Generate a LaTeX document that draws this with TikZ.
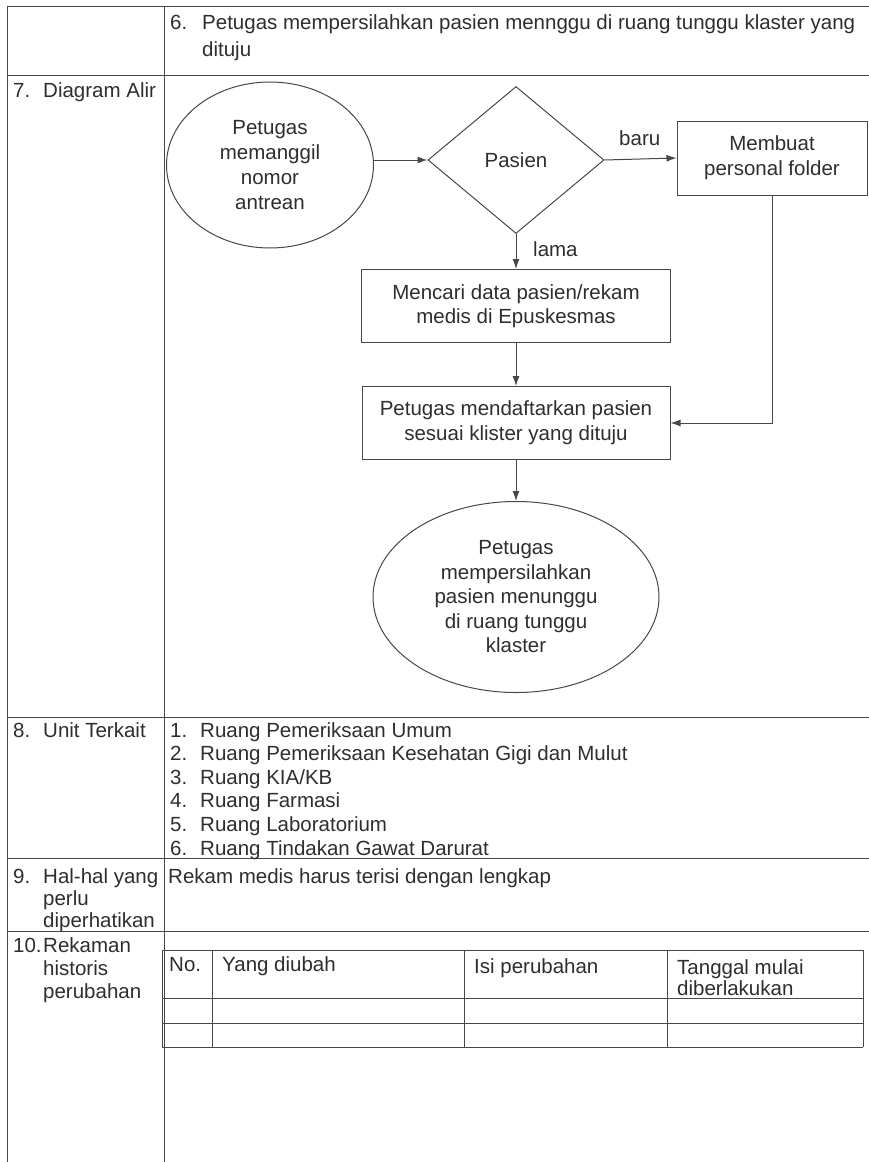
\documentclass[tikz,border=0pt]{standalone}
\usepackage{fontspec}
\setmainfont{Liberation Sans}
\usetikzlibrary{shapes.geometric,arrows.meta,positioning}
\definecolor{ink}{HTML}{2E2E2E}
\definecolor{rule}{HTML}{474747}

\begin{document}
\begin{tikzpicture}[x=1pt, y=-1pt, every node/.style={inner sep=0pt, text=ink, font=\fontsize{20.5}{23.5}\selectfont},%
        grid/.style={draw=rule, line width=1pt}, txt/.style={anchor=base west},
        box/.style={draw=rule, line width=1pt, rectangle, align=center},
        oval/.style={draw=rule, line width=1pt, ellipse, align=center},
        flow/.style={draw=rule, line width=1pt, -{Latex[length=10pt,width=7pt]}}]
    \useasboundingbox (0,0) rectangle (869,1162);
    % form grid
    \draw[grid] (7,6) -- (869,6);
    \draw[grid] (7,75) -- (869,75);
    \draw[grid] (7,717) -- (869,717);
    \draw[grid] (7,858) -- (869,858);
    \draw[grid] (7,931) -- (869,931);
    \draw[grid] (7,6) -- (7,1162);
    \draw[grid] (164,6) -- (164,1162);

    % row 6
    \node[txt] (n6) at (170,29) {6.};
    \node[txt] (t6a) at (202,29) {Petugas mempersilahkan pasien mennggu di ruang tunggu klaster yang};
    \node[txt] (t6b) at (202,56) {dituju};

    % row 7
    \node[txt] (n7) at (13,97) {7.};
    \node[txt] (l7) at (43,97) {Diagram Alir};
    \node[oval, minimum width=207, minimum height=166, font=\fontsize{20.5}{25}\selectfont] (start) at (270,165) {Petugas\\memanggil\\nomor\\antrean};
    \node[draw=rule, line width=1pt, diamond, minimum width=176, minimum height=147] (pasien) at (516,160) {Pasien};
    \node[box, minimum width=190, minimum height=74, font=\fontsize{20.5}{25}\selectfont] (folder) at (772,158) {Membuat\\personal folder};
    \node[box, minimum width=309, minimum height=73] (cari) at (516,306) {Mencari data pasien/rekam\\medis di Epuskesmas};
    \node[box, minimum width=308, minimum height=73, font=\fontsize{20.5}{25}\selectfont] (daftar) at (516,423) {Petugas mendaftarkan pasien\\sesuai klister yang dituju};
    \node[oval, minimum width=286, minimum height=191, font=\fontsize{20.5}{24.5}\selectfont] (finish) at (516,597) {Petugas\\mempersilahkan\\pasien menunggu\\di ruang tunggu\\klaster};
    \node[txt] (baru) at (619,145) {baru};
    \node[txt] (lama) at (533,256) {lama};

    \draw[flow] (start.east |- pasien.west) -- (pasien.west);
    \draw[flow] (pasien.east) -- (folder.west);
    \draw[flow] (pasien.south) -- (cari.north);
    \draw[flow] (cari.south) -- (daftar.north);
    \draw[flow] (folder.south) |- (daftar.east);
    \draw[flow] (daftar.south) -- (finish.north);

    % row 8
    \node[txt] (n8) at (13,737) {8.};
    \node[txt] (l8) at (43,737) {Unit Terkait};
    \foreach \i/\t in {1/{Ruang Pemeriksaan Umum}, 2/{Ruang Pemeriksaan Kesehatan Gigi dan Mulut}, 3/{Ruang KIA/KB},
            4/{Ruang Farmasi}, 5/{Ruang Laboratorium}, 6/{Ruang Tindakan Gawat Darurat}} {
        \node[txt] (un\i) at (170,{737+23.6*(\i-1)}) {\i.};
        \node[txt] (ut\i) at (200,{737+23.6*(\i-1)}) {\t};
    }

    % row 9
    \node[txt] (n9) at (13,883) {9.};
    \node[txt] (l9a) at (43,883) {Hal-hal yang};
    \node[txt] (l9b) at (43,905) {perlu};
    \node[txt] (l9c) at (43,927) {diperhatikan};
    \node[txt] (t9) at (168,883) {Rekam medis harus terisi dengan lengkap};

    % row 10
    \node[txt] (n10) at (13,952) {10.};
    \node[txt] (l10a) at (43,952) {Rekaman};
    \node[txt] (l10b) at (43,975) {historis};
    \node[txt] (l10c) at (43,998) {perubahan};

    \foreach \y in {950,998,1023,1047} \draw[grid] (162,\y) -- (863,\y);
    \foreach \x in {162,212,464,667,863} \draw[grid] (\x,950) -- (\x,1047);
    \node[txt] (h1) at (169,971) {No.};
    \node[txt] (h2) at (222,971) {Yang diubah};
    \node[txt] (h3) at (474,973) {Isi perubahan};
    \node[txt] (h4a) at (677,974) {Tanggal mulai};
    \node[txt] (h4b) at (677,995) {diberlakukan};
\end{tikzpicture}
\end{document}
